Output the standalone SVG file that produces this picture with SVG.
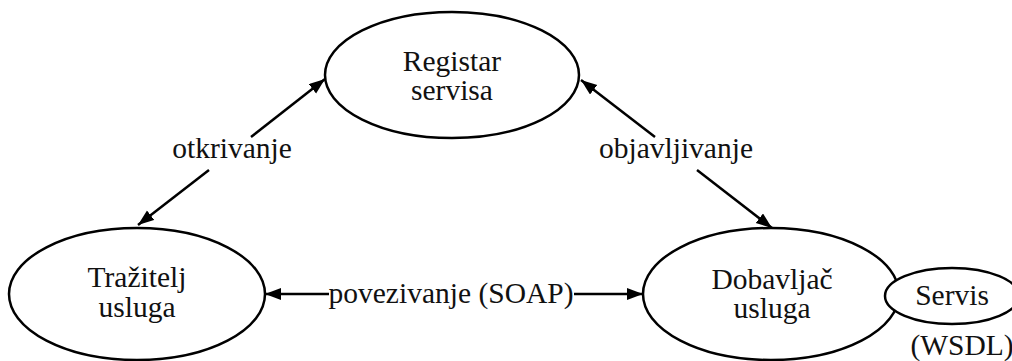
<svg xmlns="http://www.w3.org/2000/svg" width="1012" height="361" viewBox="0 0 1012 361">
<style>
.node{fill:#fff;stroke:#000;stroke-width:2.5}
.lbl{font-family:'Liberation Serif','Times New Roman',serif;font-size:29.5px;fill:#111;text-anchor:middle}
.edge{stroke:#000;stroke-width:2.5;fill:none}
</style>
<defs>
<marker id="ah" markerUnits="userSpaceOnUse" markerWidth="18" markerHeight="14" refX="16" refY="6" orient="auto">
<path d="M0,0 L16,6 L0,12 z" fill="#000"/>
</marker>
</defs>
<rect width="1012" height="361" fill="#fff"/>
<g id="registar">
<ellipse class="node" cx="452" cy="75" rx="127" ry="63"/>
<text class="lbl" x="452" y="71">Registar</text>
<text class="lbl" x="452" y="100">servisa</text>
</g>
<g id="trazitelj">
<ellipse class="node" cx="137" cy="294" rx="128" ry="66"/>
<text class="lbl" x="137" y="287">Tražitelj</text>
<text class="lbl" x="137" y="317">usluga</text>
</g>
<g id="dobavljac">
<ellipse class="node" cx="771" cy="294" rx="128" ry="66"/>
<text class="lbl" x="772" y="289">Dobavljač</text>
<text class="lbl" x="772" y="318">usluga</text>
</g>
<g id="servis">
<ellipse class="node" cx="952" cy="296" rx="67" ry="28"/>
<text class="lbl" x="952" y="305">Servis</text>
<text class="lbl" x="962" y="355">(WSDL)</text>
</g>
<g id="connectors">
<line class="edge" x1="251" y1="137" x2="325" y2="79" marker-end="url(#ah)"/>
<line class="edge" x1="209" y1="170" x2="138" y2="225" marker-end="url(#ah)"/>
<text class="lbl" x="232" y="158">otkrivanje</text>
<line class="edge" x1="655" y1="137" x2="581" y2="80" marker-end="url(#ah)"/>
<line class="edge" x1="697" y1="170" x2="772" y2="228" marker-end="url(#ah)"/>
<text class="lbl" x="676" y="158">objavljivanje</text>
<line class="edge" x1="329" y1="294" x2="265" y2="294" marker-end="url(#ah)"/>
<line class="edge" x1="574" y1="294" x2="643" y2="294" marker-end="url(#ah)"/>
<text class="lbl" x="451" y="303">povezivanje (SOAP)</text>
</g>
</svg>
